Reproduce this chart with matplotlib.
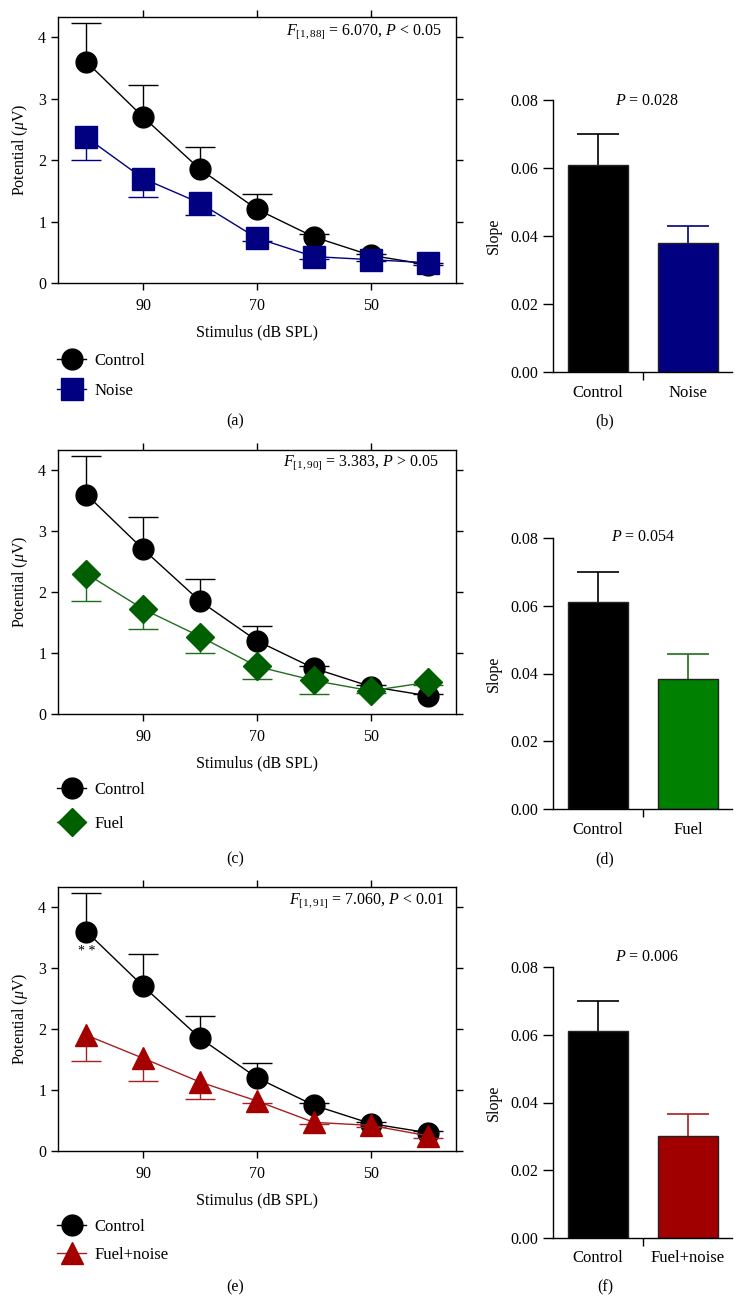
import matplotlib
matplotlib.use("Agg")
import matplotlib.pyplot as plt
import numpy as np

plt.rcParams['font.family'] = ['Liberation Serif', 'DejaVu Serif']
plt.rcParams['mathtext.fontset'] = 'custom'
plt.rcParams['mathtext.rm'] = 'Liberation Serif'
plt.rcParams['mathtext.it'] = 'Liberation Serif:italic'
plt.rcParams['font.size'] = 11

# ---------------- data ----------------
stimulus = [100, 90, 80, 70, 60, 50, 40]
x_ticks = [90, 70, 50]
y_ticks = [0, 1, 2, 3, 4]

control_mean = [3.60, 2.70, 1.85, 1.20, 0.75, 0.45, 0.30]
control_sem = [0.63, 0.53, 0.36, 0.25, 0.04, 0.03, 0.03]

noise_mean = [2.37, 1.70, 1.30, 0.73, 0.43, 0.38, 0.33]
noise_sem = [0.37, 0.30, 0.20, 0.05, 0.04, 0.03, 0.03]

fuel_mean = [2.30, 1.72, 1.27, 0.78, 0.55, 0.38, 0.52]
fuel_sem = [0.45, 0.32, 0.27, 0.21, 0.22, 0.04, 0.04]

fuelnoise_mean = [1.90, 1.52, 1.13, 0.82, 0.47, 0.42, 0.25]
fuelnoise_sem = [0.42, 0.37, 0.27, 0.04, 0.03, 0.03, 0.03]

stats_text = [r'$F_{[1,88]}$ = 6.070, $P$ < 0.05',
              r'$F_{[1,90]}$ = 3.383, $P$ > 0.05',
              r'$F_{[1,91]}$ = 7.060, $P$ < 0.01']

slope_control = 0.061
slope_control_sem = 0.009
slope_groups = ['Noise', 'Fuel', 'Fuel+noise']
slope_means = [0.038, 0.0385, 0.030]
slope_sems = [0.005, 0.0072, 0.0065]
slope_p = [r'$P$ = 0.028', r'$P$ = 0.054', r'$P$ = 0.006']
slope_ticks = [0.00, 0.02, 0.04, 0.06, 0.08]

panel_letters = [('(a)', '(b)'), ('(c)', '(d)'), ('(e)', '(f)')]

# ---------------- styles ----------------
treat_marker = ['s', 'D', '^']
treat_ms = [16, 14, 16]
treat_color = ['#000080', '#005F00', '#A50000']
treat_line = ['#000080', '#1E6E1E', '#A52020']
bar_color = ['#000080', '#008000', '#A00000']
treat_means = [noise_mean, fuel_mean, fuelnoise_mean]
treat_sems = [noise_sem, fuel_sem, fuelnoise_sem]

W, H = 744, 1305
fig = plt.figure(figsize=(W / 100, H / 100), dpi=100)

def rect(l, t, r, b):
    return [l / W, 1 - b / H, (r - l) / W, (b - t) / H]

def hide_caps_at(container, yvals):
    _, caplines, _ = container.lines
    for cl in caplines:
        yd = np.asarray(cl.get_ydata(), dtype=float)
        if np.allclose(yd, np.asarray(yvals, dtype=float)):
            cl.set_visible(False)

line_axes = [(58, 17, 456, 283), (58, 450, 456, 714), (58, 887, 456, 1151)]
bar_axes = [(553, 100, 732, 372), (553, 538, 732, 809), (553, 967, 732, 1238)]
stats_pos = [(442, 32), (439, 463), (445, 901)]
legend_top = [353, 782, 1219]
legend_spacing = [0.85, 1.05, 0.72]
letter_y = [421, 859, 1287]
p_pos = [(647, 101), (643, 537), (647, 957)]
LBL = 11.5

for i in range(3):
    ax = fig.add_axes(rect(*line_axes[i]))
    zero = [0] * len(stimulus)
    c1 = ax.errorbar(stimulus, control_mean, yerr=[zero, control_sem], color='black',
                     marker='o', ms=15, lw=1.0, elinewidth=1.0, capsize=11, capthick=1.0,
                     label='Control', zorder=3)
    hide_caps_at(c1, control_mean)
    c2 = ax.errorbar(stimulus, treat_means[i], yerr=[treat_sems[i], zero],
                     color=treat_line[i], mfc=treat_color[i], mec=treat_color[i],
                     ecolor=treat_line[i], marker=treat_marker[i], ms=treat_ms[i],
                     lw=1.0, elinewidth=1.0, capsize=11, capthick=1.0,
                     label=slope_groups[i], zorder=4)
    hide_caps_at(c2, treat_means[i])
    ax.set_xlim(105, 35)
    ax.set_ylim(0, 4.33)
    ax.set_xticks(x_ticks)
    ax.set_yticks(y_ticks)
    ax.tick_params(direction='out', top=True, right=True, labeltop=False,
                   labelright=False, length=5, width=1.0, labelsize=11.5)
    ax.tick_params(axis='x', pad=6)
    for s in ax.spines.values():
        s.set_linewidth(1.0)
    ax.set_xlabel('Stimulus (dB SPL)', fontsize=LBL, labelpad=7)
    ax.set_ylabel(r'Potential ($\mu$V)', fontsize=LBL)
    ax.yaxis.set_label_coords(-0.07, 0.5)
    sx, sy = stats_pos[i]
    fig.text(sx / W, 1 - sy / H, stats_text[i], ha='right', va='center', fontsize=LBL)
    leg = ax.legend([c1.lines[0], c2.lines[0]], ['Control', slope_groups[i]],
                    loc='upper left',
                    bbox_to_anchor=(57 / W, 1 - legend_top[i] / H),
                    bbox_transform=fig.transFigure, frameon=False, borderpad=0,
                    borderaxespad=0, handlelength=1.75, handletextpad=0.5,
                    labelspacing=legend_spacing[i], fontsize=12)
    fig.text(235 / W, 1 - letter_y[i] / H, panel_letters[i][0], ha='center',
             va='center', fontsize=LBL)
    if i == 2:
        ax.text(stimulus[0], 3.28, '* *', ha='center', va='center', fontsize=10)

    # bar chart
    bx = fig.add_axes(rect(*bar_axes[i]))
    names = ['Control', slope_groups[i]]
    vals = [slope_control, slope_means[i]]
    errs = [slope_control_sem, slope_sems[i]]
    pos = np.arange(2)
    bx.bar(pos, vals, width=0.667, color=['black', bar_color[i]],
           edgecolor='#222222', linewidth=1.0, zorder=2)
    for k in range(2):
        eb = bx.errorbar(pos[k], vals[k], yerr=[[0], [errs[k]]],
                         ecolor=['black', treat_line[i]][k], elinewidth=1.2,
                         capsize=15, capthick=1.2, fmt='none', zorder=1)
        hide_caps_at(eb, [vals[k]])
    bx.set_xlim(-0.5, 1.49)
    bx.set_ylim(0, 0.08)
    bx.set_yticks(slope_ticks)
    bx.set_yticklabels(['%.2f' % v for v in slope_ticks])
    bx.set_xticks(pos)
    bx.set_xticklabels(names)
    bx.set_xticks([0.5], minor=True)
    bx.tick_params(axis='x', which='major', length=0, pad=9, labelsize=12)
    bx.tick_params(axis='x', which='minor', length=6, width=1.0, direction='out')
    bx.tick_params(axis='y', length=7, width=1.0, direction='out', labelsize=11.5)
    bx.spines['top'].set_visible(False)
    bx.spines['right'].set_visible(False)
    for s in ['left', 'bottom']:
        bx.spines[s].set_linewidth(1.0)
    bx.set_ylabel('Slope', fontsize=LBL)
    bx.yaxis.set_label_coords(-0.285, 0.5)
    px, py = p_pos[i]
    fig.text(px / W, 1 - py / H, slope_p[i], ha='center', va='center', fontsize=LBL)
    fig.text(605 / W, 1 - letter_y[i] / H, panel_letters[i][1], ha='center',
             va='center', fontsize=LBL)

fig.savefig('out.png', dpi=100)
